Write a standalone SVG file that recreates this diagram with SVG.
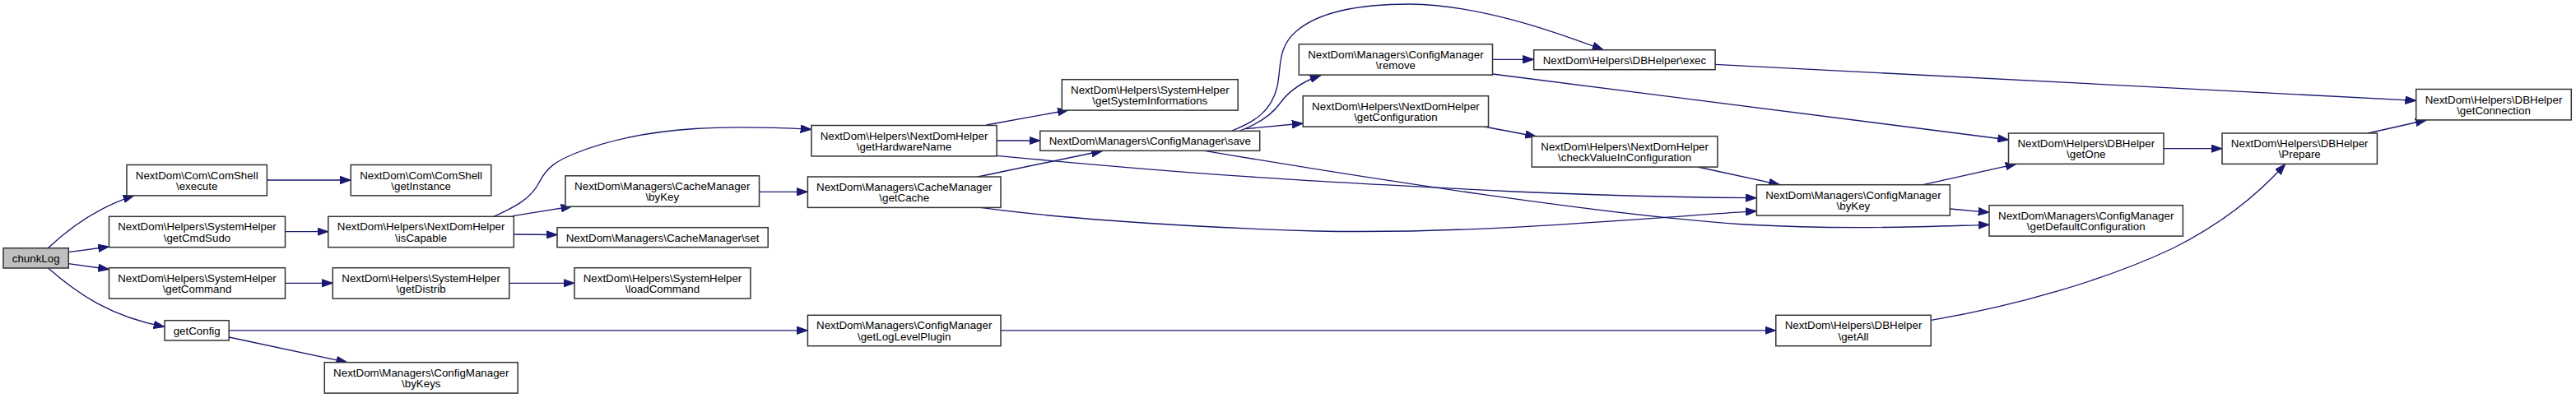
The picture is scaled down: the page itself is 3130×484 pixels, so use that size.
<svg xmlns="http://www.w3.org/2000/svg" width="3130" height="484" viewBox="0 0 3130 484">
<defs>
<style>
.node rect{fill:#ffffff;stroke:#333333;stroke-width:1.5}
.root rect{fill:#bfbfbf}
.node text{font-family:"Liberation Sans",Arial,Helvetica,sans-serif;font-size:13.33px;fill:#000000;text-anchor:middle}
.edges path{fill:none;stroke:#191970;stroke-width:1.33;marker-end:url(#ah)}
</style>
<marker id="ah" markerUnits="userSpaceOnUse" markerWidth="14" markerHeight="10" viewBox="0 0 14 10" refX="13.3" refY="5" orient="auto">
<path d="M0,0.3 L13.3,5 L0,9.7 Z" fill="#191970" stroke="#191970" stroke-width="1"/>
</marker>
</defs>
<rect x="0" y="0" width="3130" height="484" fill="#ffffff"/>
<g id="edges" class="edges">
<path d="M58.5,301.5 C90,272 125,250 163,237.8"/>
<path d="M83.3,306.7 L132.5,300"/>
<path d="M83.3,320.7 L132.5,327.5"/>
<path d="M58.5,326 C95,358 135,385 200,397.5"/>
<path d="M324.4,219 L426.3,219"/>
<path d="M346.5,281.7 L398.8,281.7"/>
<path d="M346.5,344.3 L404.3,344.3"/>
<path d="M278.2,401.8 L981.4,401.8"/>
<path d="M278.2,410 L421.8,440.7"/>
<path d="M600,263.3 C625,252 645,242 655,222 C665,202 678,195 700,186 C790,150 900,153 985.9,157.3"/>
<path d="M623,262.7 L695,251"/>
<path d="M624.3,285 L677,285.5"/>
<path d="M618.8,344.3 L698,344.3"/>
<path d="M922.5,233.3 L981.4,233.3"/>
<path d="M1198.4,152 L1298.3,133.8"/>
<path d="M1211.1,171 L1263.8,171"/>
<path d="M1211.1,189.3 C1450,212 1560,219 1840,233 C1980,239 2080,240.3 2134.4,240.7"/>
<path d="M1188,215 L1339.6,183.5"/>
<path d="M1191.5,252.3 C1260,262 1400,275 1600,281 C1800,285 2000,265 2134.4,256.7"/>
<path d="M1506.7,159 C1530,150 1545,140 1555,126 C1565,112 1580,100 1605,91.5"/>
<path d="M1496.7,159 C1525,148 1545,135 1552,105 C1557,80 1552,58 1575,38 C1605,12 1660,5 1713,5 C1795,6 1880,35 1948,60.5"/>
<path d="M1513.3,156.7 L1583.2,150"/>
<path d="M1463.6,183.3 C1650,215 1950,262 2120,273 C2250,280 2350,275 2417,273.3"/>
<path d="M1813.5,72.3 L1863.7,72.3"/>
<path d="M1813.5,90 L2440.5,170"/>
<path d="M2084.1,78.3 L2935.7,122.3"/>
<path d="M1803.3,154 L1866.7,166"/>
<path d="M2062.8,203 L2162.6,224.7"/>
<path d="M2336.7,224.7 L2450,199.3"/>
<path d="M2369.3,254 L2417,258.3"/>
<path d="M2629,180.7 L2700,180.7"/>
<path d="M2877.2,162 L2948.2,146"/>
<path d="M1216,401.8 L2157.8,401.8"/>
<path d="M2346.7,389.3 C2450,372 2560,340 2640,302 C2700,272 2745,235 2776.7,199.5"/>
</g>
<g id="chunkLog" class="node root"><rect x="4" y="301.7" width="79.3" height="24.3"/><text x="43.7" y="318.7">chunkLog</text></g>
<g id="execute" class="node"><rect x="154" y="200.5" width="170.4" height="37.4"/><text x="239.2" y="217.5">NextDom\Com\ComShell</text><text x="239.2" y="230.8">\execute</text></g>
<g id="getCmdSudo" class="node"><rect x="132.5" y="263.3" width="214" height="37.4"/><text x="239.5" y="280.3">NextDom\Helpers\SystemHelper</text><text x="239.5" y="293.6">\getCmdSudo</text></g>
<g id="getCommand" class="node"><rect x="132.5" y="325.7" width="214" height="37.4"/><text x="239.5" y="342.7">NextDom\Helpers\SystemHelper</text><text x="239.5" y="356">\getCommand</text></g>
<g id="getConfig" class="node"><rect x="200.1" y="389.7" width="78.1" height="24.3"/><text x="239.2" y="406.7">getConfig</text></g>
<g id="byKeys" class="node"><rect x="394.3" y="440.7" width="234.9" height="37.4"/><text x="511.8" y="457.7">NextDom\Managers\ConfigManager</text><text x="511.8" y="471">\byKeys</text></g>
<g id="getInstance" class="node"><rect x="426.3" y="200.5" width="170.5" height="37.4"/><text x="511.6" y="217.5">NextDom\Com\ComShell</text><text x="511.6" y="230.8">\getInstance</text></g>
<g id="isCapable" class="node"><rect x="398.8" y="263.3" width="225.5" height="37.4"/><text x="511.6" y="280.3">NextDom\Helpers\NextDomHelper</text><text x="511.6" y="293.6">\isCapable</text></g>
<g id="getDistrib" class="node"><rect x="404.3" y="325.7" width="214.5" height="37.4"/><text x="511.6" y="342.7">NextDom\Helpers\SystemHelper</text><text x="511.6" y="356">\getDistrib</text></g>
<g id="getHardwareName" class="node"><rect x="985.9" y="152.5" width="225.2" height="37.4"/><text x="1098.5" y="169.5">NextDom\Helpers\NextDomHelper</text><text x="1098.5" y="182.8">\getHardwareName</text></g>
<g id="cacheByKey" class="node"><rect x="687" y="213.8" width="235.5" height="37.4"/><text x="804.8" y="230.8">NextDom\Managers\CacheManager</text><text x="804.8" y="244.1">\byKey</text></g>
<g id="cacheSet" class="node"><rect x="677" y="276.7" width="256.2" height="24"/><text x="805.1" y="293.5">NextDom\Managers\CacheManager\set</text></g>
<g id="loadCommand" class="node"><rect x="698" y="325.7" width="213.9" height="37.4"/><text x="805" y="342.7">NextDom\Helpers\SystemHelper</text><text x="805" y="356">\loadCommand</text></g>
<g id="getCache" class="node"><rect x="981.4" y="215" width="234.6" height="37.4"/><text x="1098.7" y="232">NextDom\Managers\CacheManager</text><text x="1098.7" y="245.3">\getCache</text></g>
<g id="getLogLevelPlugin" class="node"><rect x="981.4" y="383.3" width="234.6" height="37.4"/><text x="1098.7" y="400.3">NextDom\Managers\ConfigManager</text><text x="1098.7" y="413.6">\getLogLevelPlugin</text></g>
<g id="getSystemInformations" class="node"><rect x="1290.3" y="96.7" width="213.9" height="37.4"/><text x="1397.3" y="113.7">NextDom\Helpers\SystemHelper</text><text x="1397.3" y="127">\getSystemInformations</text></g>
<g id="save" class="node"><rect x="1263.8" y="159.3" width="266.9" height="24"/><text x="1397.3" y="176.1">NextDom\Managers\ConfigManager\save</text></g>
<g id="remove" class="node"><rect x="1578.3" y="53.7" width="235.2" height="37.4"/><text x="1695.9" y="70.7">NextDom\Managers\ConfigManager</text><text x="1695.9" y="84">\remove</text></g>
<g id="exec" class="node"><rect x="1863.7" y="60.7" width="220.4" height="24"/><text x="1973.9" y="77.5">NextDom\Helpers\DBHelper\exec</text></g>
<g id="getConfiguration" class="node"><rect x="1583.2" y="116.7" width="225.3" height="37.4"/><text x="1695.9" y="133.7">NextDom\Helpers\NextDomHelper</text><text x="1695.9" y="147">\getConfiguration</text></g>
<g id="checkValueInConfiguration" class="node"><rect x="1861.3" y="165.7" width="225.6" height="37.4"/><text x="1974.1" y="182.7">NextDom\Helpers\NextDomHelper</text><text x="1974.1" y="196">\checkValueInConfiguration</text></g>
<g id="getOne" class="node"><rect x="2440.5" y="162" width="188.5" height="37.4"/><text x="2534.8" y="179">NextDom\Helpers\DBHelper</text><text x="2534.8" y="192.3">\getOne</text></g>
<g id="configByKey" class="node"><rect x="2134.4" y="224.7" width="234.9" height="37.4"/><text x="2251.9" y="241.7">NextDom\Managers\ConfigManager</text><text x="2251.9" y="255">\byKey</text></g>
<g id="getDefaultConfiguration" class="node"><rect x="2417" y="249.7" width="235.4" height="37.4"/><text x="2534.7" y="266.7">NextDom\Managers\ConfigManager</text><text x="2534.7" y="280">\getDefaultConfiguration</text></g>
<g id="getAll" class="node"><rect x="2157.8" y="383.3" width="188.4" height="37.4"/><text x="2252" y="400.3">NextDom\Helpers\DBHelper</text><text x="2252" y="413.6">\getAll</text></g>
<g id="getConnection" class="node"><rect x="2935.7" y="108.5" width="188.6" height="37.4"/><text x="3030" y="125.5">NextDom\Helpers\DBHelper</text><text x="3030" y="138.8">\getConnection</text></g>
<g id="Prepare" class="node"><rect x="2700" y="162" width="188.4" height="37.4"/><text x="2794.2" y="179">NextDom\Helpers\DBHelper</text><text x="2794.2" y="192.3">\Prepare</text></g>
</svg>
